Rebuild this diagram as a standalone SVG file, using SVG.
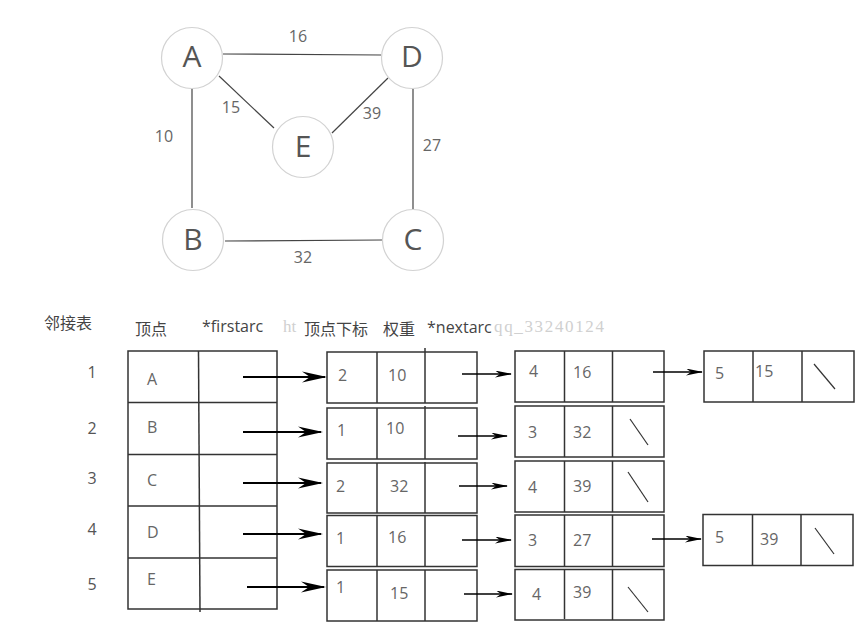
<svg xmlns="http://www.w3.org/2000/svg" width="867" height="630" viewBox="0 0 867 630">
<defs>
<style>
.circ{fill:#fff;stroke:#d2d2d2;stroke-width:1.2}
.gl{font-family:"Open Sans","Liberation Sans",sans-serif;font-size:30px;fill:#555;text-anchor:middle}
.el{font-family:"Open Sans","Liberation Sans",sans-serif;font-size:16px;fill:#666;text-anchor:middle}
.edge{stroke:#444;stroke-width:1.2;fill:none}
.hd{font-family:"Open Sans","Liberation Sans","Noto Sans CJK SC",sans-serif;font-size:16px;fill:#444}
.num{font-family:"Open Sans","Liberation Sans",sans-serif;font-size:16px;fill:#555;text-anchor:middle}
.ct{font-family:"Open Sans","Liberation Sans",sans-serif;font-size:16px;fill:#666}
.tb{fill:#fff;stroke:#333;stroke-width:1.5}
.dv{stroke:#333;stroke-width:1.5}
.sl{stroke:#333;stroke-width:1.2}
.ab{stroke:#000;stroke-width:2;fill:none}
.as{stroke:#000;stroke-width:1.5;fill:none}
.wm{font-family:"Liberation Serif",serif;font-size:17px;fill:#d0d0d0}
</style>
<marker id="big" markerUnits="userSpaceOnUse" viewBox="0 0 25 12" markerWidth="25" markerHeight="12" refX="23" refY="6" orient="auto">
<path d="M0,0.5 L25,6 L0,11.5 L8,6 z" fill="#000"/>
</marker>
<marker id="small" markerUnits="userSpaceOnUse" viewBox="0 0 17 7" markerWidth="17" markerHeight="7" refX="16" refY="3.5" orient="auto">
<path d="M0,0 L17,3.5 L0,7 L5,3.5 z" fill="#000"/>
</marker>
</defs>
<rect width="867" height="630" fill="#fff"/>

<g id="graph-edges">
<line class="edge" x1="223" y1="54" x2="381" y2="55"/>
<line class="edge" x1="225" y1="241" x2="382" y2="240"/>
<line class="edge" x1="192" y1="89" x2="192" y2="208"/>
<line class="edge" x1="413" y1="89" x2="413" y2="209"/>
<line class="edge" x1="219" y1="76" x2="274" y2="128"/>
<line class="edge" x1="332" y1="133" x2="388" y2="78"/>
<text class="el" x="298" y="42">16</text>
<text class="el" x="164" y="142">10</text>
<text class="el" x="231" y="113">15</text>
<text class="el" x="372" y="119">39</text>
<text class="el" x="432" y="151">27</text>
<text class="el" x="303" y="263">32</text>
</g>
<g id="node-A"><circle class="circ" cx="192" cy="58" r="30.5"/><text class="gl" x="192" y="67">A</text></g>
<g id="node-D"><circle class="circ" cx="412" cy="58" r="30.5"/><text class="gl" x="412" y="67">D</text></g>
<g id="node-E"><circle class="circ" cx="303" cy="147" r="30.5"/><text class="gl" x="303" y="157">E</text></g>
<g id="node-B"><circle class="circ" cx="193" cy="240" r="30.5"/><text class="gl" x="193" y="250">B</text></g>
<g id="node-C"><circle class="circ" cx="413" cy="240" r="30.5"/><text class="gl" x="413" y="250">C</text></g>

<g id="watermark">
<text class="wm" x="283" y="332">ht</text>
<text class="wm" x="494" y="332" textLength="110" lengthAdjust="spacing">qq_33240124</text>
</g>

<g id="headers">
<text class="hd" x="44" y="329">邻接表</text>
<text class="hd" x="135" y="335">顶点</text>
<text class="hd" x="202" y="332">*firstarc</text>
<text class="hd" x="304" y="335">顶点下标</text>
<text class="hd" x="383" y="335">权重</text>
<text class="hd" x="427" y="333">*nextarc</text>
</g>

<g id="row-numbers">
<text class="num" x="92" y="378">1</text>
<text class="num" x="92" y="434">2</text>
<text class="num" x="92" y="484">3</text>
<text class="num" x="92" y="535">4</text>
<text class="num" x="92" y="590">5</text>
</g>

<g id="vertex-table">
<rect class="tb" x="128" y="351" width="149" height="258"/>
<line class="dv" x1="128" y1="402.5" x2="277" y2="402.5"/>
<line class="dv" x1="128" y1="454.5" x2="277" y2="454.5"/>
<line class="dv" x1="128" y1="506" x2="277" y2="506"/>
<line class="dv" x1="128" y1="558" x2="277" y2="558"/>
<line class="dv" x1="198.5" y1="351" x2="200" y2="612"/>
<text class="ct" x="147" y="385">A</text>
<text class="ct" x="147" y="433">B</text>
<text class="ct" x="147" y="486">C</text>
<text class="ct" x="147" y="538">D</text>
<text class="ct" x="147" y="585">E</text>
</g>

<g id="arc-1-1">
<rect class="tb" x="327" y="352" width="150" height="51"/>
<line class="dv" x1="377" y1="352" x2="377" y2="403"/><line class="dv" x1="425" y1="348" x2="425" y2="403"/>
<text class="ct" x="338" y="381">2</text><text class="ct" x="388" y="381">10</text>
</g>
<g id="arc-2-1">
<rect class="tb" x="327" y="408" width="150" height="51"/>
<line class="dv" x1="377" y1="408" x2="377" y2="459"/><line class="dv" x1="425" y1="406" x2="425" y2="459"/>
<text class="ct" x="337" y="436">1</text><text class="ct" x="386" y="434">10</text>
</g>
<g id="arc-3-1">
<rect class="tb" x="327" y="463" width="150" height="50"/>
<line class="dv" x1="377" y1="463" x2="377" y2="513"/><line class="dv" x1="425" y1="462" x2="425" y2="513"/>
<text class="ct" x="336" y="492">2</text><text class="ct" x="390" y="492">32</text>
</g>
<g id="arc-4-1">
<rect class="tb" x="327" y="515.5" width="150" height="51"/>
<line class="dv" x1="377" y1="515.5" x2="377" y2="566.5"/><line class="dv" x1="425" y1="515.5" x2="425" y2="566.5"/>
<text class="ct" x="336" y="544">1</text><text class="ct" x="388" y="543">16</text>
</g>
<g id="arc-5-1">
<rect class="tb" x="327" y="570" width="150" height="51"/>
<line class="dv" x1="377" y1="570" x2="377" y2="621"/><line class="dv" x1="425" y1="570" x2="425" y2="621"/>
<text class="ct" x="336" y="593">1</text><text class="ct" x="390" y="599">15</text>
</g>

<g id="arc-1-2">
<rect class="tb" x="515" y="351" width="149" height="51"/>
<line class="dv" x1="564.5" y1="351" x2="564.5" y2="402"/><line class="dv" x1="612.5" y1="351" x2="612.5" y2="402"/>
<text class="ct" x="529" y="377">4</text><text class="ct" x="573" y="378">16</text>
</g>
<g id="arc-2-2">
<rect class="tb" x="515" y="406" width="149" height="51"/>
<line class="dv" x1="564.5" y1="406" x2="564.5" y2="457"/><line class="dv" x1="612.5" y1="406" x2="612.5" y2="457"/>
<line class="sl" x1="630" y1="419" x2="648" y2="445"/>
<text class="ct" x="528" y="438">3</text><text class="ct" x="573" y="438">32</text>
</g>
<g id="arc-3-2">
<rect class="tb" x="515" y="461" width="149" height="51"/>
<line class="dv" x1="564.5" y1="461" x2="564.5" y2="512"/><line class="dv" x1="612.5" y1="461" x2="612.5" y2="512"/>
<line class="sl" x1="628" y1="472" x2="648" y2="502"/>
<text class="ct" x="528" y="493">4</text><text class="ct" x="573" y="492">39</text>
</g>
<g id="arc-4-2">
<rect class="tb" x="515" y="515" width="149" height="51.5"/>
<line class="dv" x1="564.5" y1="515" x2="564.5" y2="566.5"/><line class="dv" x1="612.5" y1="515" x2="612.5" y2="566.5"/>
<text class="ct" x="528" y="546">3</text><text class="ct" x="573" y="546">27</text>
</g>
<g id="arc-5-2">
<rect class="tb" x="515" y="569.5" width="149" height="50.5"/>
<line class="dv" x1="564.5" y1="569.5" x2="564.5" y2="619"/><line class="dv" x1="612.5" y1="569.5" x2="612.5" y2="620"/>
<line class="sl" x1="628" y1="587" x2="648" y2="612"/>
<text class="ct" x="532" y="600">4</text><text class="ct" x="573" y="598">39</text>
</g>

<g id="arc-1-3">
<rect class="tb" x="704" y="351" width="150" height="51"/>
<line class="dv" x1="753" y1="351" x2="753" y2="402"/><line class="dv" x1="802" y1="351" x2="802" y2="402"/>
<line class="sl" x1="814" y1="364" x2="835" y2="389"/>
<text class="ct" x="715" y="379">5</text><text class="ct" x="755" y="377">15</text>
</g>
<g id="arc-4-3">
<rect class="tb" x="703" y="514.5" width="150" height="51"/>
<line class="dv" x1="752.5" y1="514.5" x2="752.5" y2="565.5"/><line class="dv" x1="801" y1="514.5" x2="801" y2="565.5"/>
<line class="sl" x1="815" y1="528" x2="834" y2="554"/>
<text class="ct" x="715" y="543">5</text><text class="ct" x="760" y="545">39</text>
</g>

<g id="connectors">
<line class="ab" x1="243" y1="377" x2="325" y2="377" marker-end="url(#big)"/>
<line class="ab" x1="243" y1="432" x2="321" y2="432" marker-end="url(#big)"/>
<line class="ab" x1="243" y1="483" x2="321" y2="483" marker-end="url(#big)"/>
<line class="ab" x1="243" y1="534" x2="321" y2="534" marker-end="url(#big)"/>
<line class="ab" x1="247" y1="587" x2="324" y2="587" marker-end="url(#big)"/>
<line class="as" x1="462" y1="374" x2="511" y2="374" marker-end="url(#small)"/>
<line class="as" x1="458" y1="436" x2="507" y2="436" marker-end="url(#small)"/>
<line class="as" x1="459" y1="486" x2="507" y2="486" marker-end="url(#small)"/>
<line class="as" x1="462" y1="540" x2="511" y2="540" marker-end="url(#small)"/>
<line class="as" x1="464" y1="594" x2="512" y2="594" marker-end="url(#small)"/>
<line class="as" x1="653" y1="372" x2="702" y2="372" marker-end="url(#small)"/>
<line class="as" x1="652" y1="539" x2="701" y2="539" marker-end="url(#small)"/>
</g>
</svg>
